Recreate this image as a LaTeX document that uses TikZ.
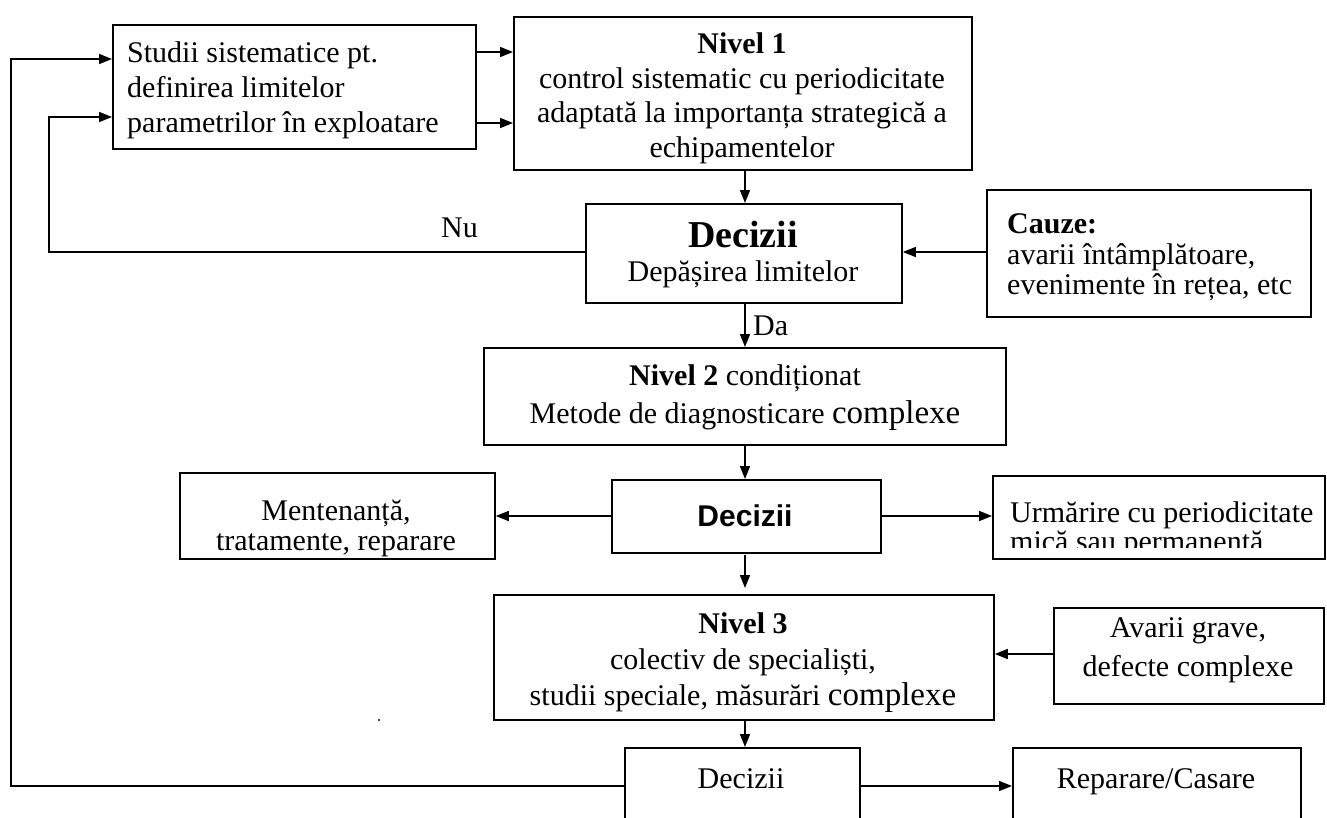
\documentclass[tikz,border=0pt]{standalone}
\usepackage{fontspec}
\setmainfont{Liberation Serif}
\newfontfamily\sansf{Liberation Sans}
\usetikzlibrary{arrows.meta}
\begin{document}
\begin{tikzpicture}[x=1pt,y=-1pt,
  box/.style={draw,line width=1.8pt,inner sep=0pt,anchor=north west},
  arr/.style={line width=1.6pt,-{Triangle[length=13pt,width=10pt]}},
  txt/.style={inner sep=0pt,anchor=base,font=\fontsize{30}{34}\selectfont},
  txtl/.style={txt,anchor=base west}]
\useasboundingbox (0,0) rectangle (1327,817);
\clip (0,0) rectangle (1327,817);
\fill[white] (0,0) rectangle (1327,817);
% boxes
\node[box,minimum width=363pt,minimum height=124pt] (A) at (112,24) {};
\node[box,minimum width=458pt,minimum height=153pt] (B) at (513,16) {};
\node[box,minimum width=316pt,minimum height=99pt] (D1) at (585,203) {};
\node[box,minimum width=324pt,minimum height=127pt] (C) at (986,189) {};
\node[box,minimum width=522pt,minimum height=97pt] (N2) at (483,347) {};
\node[box,minimum width=315pt,minimum height=86pt] (M) at (179,472) {};
\node[box,minimum width=269pt,minimum height=73pt] (D2) at (611,479) {};
\node[box,minimum width=332pt,minimum height=83pt] (U) at (992,475) {};
\node[box,minimum width=500pt,minimum height=125pt] (N3) at (493,594) {};
\node[box,minimum width=270pt,minimum height=96pt] (Av) at (1053,607) {};
\node[box,minimum width=235pt,minimum height=100pt] (D3) at (624,747) {};
\node[box,minimum width=288pt,minimum height=100pt] (R) at (1012,747) {};
% texts
\node[txtl] (a1) at (127,62) {Studii sistematice pt.};
\node[txtl] (a2) at (127,97) {definirea limitelor};
\node[txtl] (a3) at (127,132) {parametrilor în exploatare};
\node[txt] (b1) at (742,53) {\textbf{Nivel 1}};
\node[txt] (b2) at (742,88) {control sistematic cu periodicitate};
\node[txt] (b3) at (742,122) {adaptată la importanța strategică a};
\node[txt] (b4) at (742,157) {echipamentelor};
\node[txt,font=\fontsize{38}{40}\selectfont\bfseries] (d1a) at (743,247) {Decizii};
\node[txt] (d1b) at (743,281) {Depășirea limitelor};
\node[txtl] (c1) at (1007,233) {\textbf{Cauze:}};
\node[txtl] (c2) at (1007,264) {avarii întâmplătoare,};
\node[txtl] (c3) at (1007,294) {evenimente în rețea, etc};
\node[txtl] (nu) at (441,237) {Nu};
\node[txtl] (da) at (753,335) {Da};
\node[txt] (n2a) at (745,385) {\textbf{Nivel 2} condiționat};
\node[txt] (n2b) at (745,423) {Metode de diagnosticare {\fontsize{33}{34}\selectfont complexe}};
\node[txt] (m1) at (336,520) {Mentenanță,};
\node[txt] (m2) at (336,550) {tratamente, reparare};
\node[txt,font=\fontsize{30}{34}\selectfont\sansf\bfseries] (d2t) at (745,526) {Decizii};
\node[txtl] (u1) at (1010,522) {Urmărire cu periodicitate};
\begin{scope}
\clip (992,530) rectangle (1327,547);
\node[txtl] (u2) at (1010,551) {mică sau permanentă};
\end{scope}
\node[txt] (n3a) at (743,633) {\textbf{Nivel 3}};
\node[txt] (n3b) at (743,669) {colectiv de specialiști,};
\node[txt] (n3c) at (743,705) {studii speciale, măsurări {\fontsize{33}{34}\selectfont complexe}};
\node[txt] (av1) at (1188,637) {Avarii grave,};
\node[txt] (av2) at (1188,676) {defecte complexe};
\node[txt] (d3t) at (741,788) {Decizii};
\node[txt] (rt) at (1156,788) {Reparare/Casare};
\fill (379,720) circle (1.2pt);
% coordinates
\coordinate (o1) at (11,786);
\coordinate (o2) at (11,59);
\coordinate (i1) at (49,252);
\coordinate (i2) at (49,117);
\coordinate (ab1) at (0,52);
\coordinate (ab2) at (0,123);
\coordinate (sp) at (745,0);
\coordinate (dm) at (0,516);
\coordinate (an) at (0,654);
\coordinate (d2s) at (745,555);
\coordinate (n3n) at (745,588);
% connectors
\draw[arr] (D3.west |- o1) -- (o1) -- (o2) -- (A.west |- o2);
\draw[arr] (D1.west |- i1) -- (i1) -- (i2) -- (A.west |- i2);
\draw[arr] (A.east |- ab1) -- (B.west |- ab1);
\draw[arr] (A.east |- ab2) -- (B.west |- ab2);
\draw[arr] (B.south -| sp) -- (D1.north -| sp);
\draw[arr] (C.west |- i1) -- (D1.east |- i1);
\draw[arr] (D1.south -| sp) -- (N2.north -| sp);
\draw[arr] (N2.south -| sp) -- (D2.north -| sp);
\draw[arr] (D2.west |- dm) -- (M.east |- dm);
\draw[arr] (D2.east |- dm) -- (U.west |- dm);
\draw[arr] (d2s) -- (n3n);
\draw[arr] (Av.west |- an) -- (N3.east |- an);
\draw[arr] (N3.south -| sp) -- (D3.north -| sp);
\draw[arr] (D3.east |- o1) -- (R.west |- o1);
\end{tikzpicture}
\end{document}
